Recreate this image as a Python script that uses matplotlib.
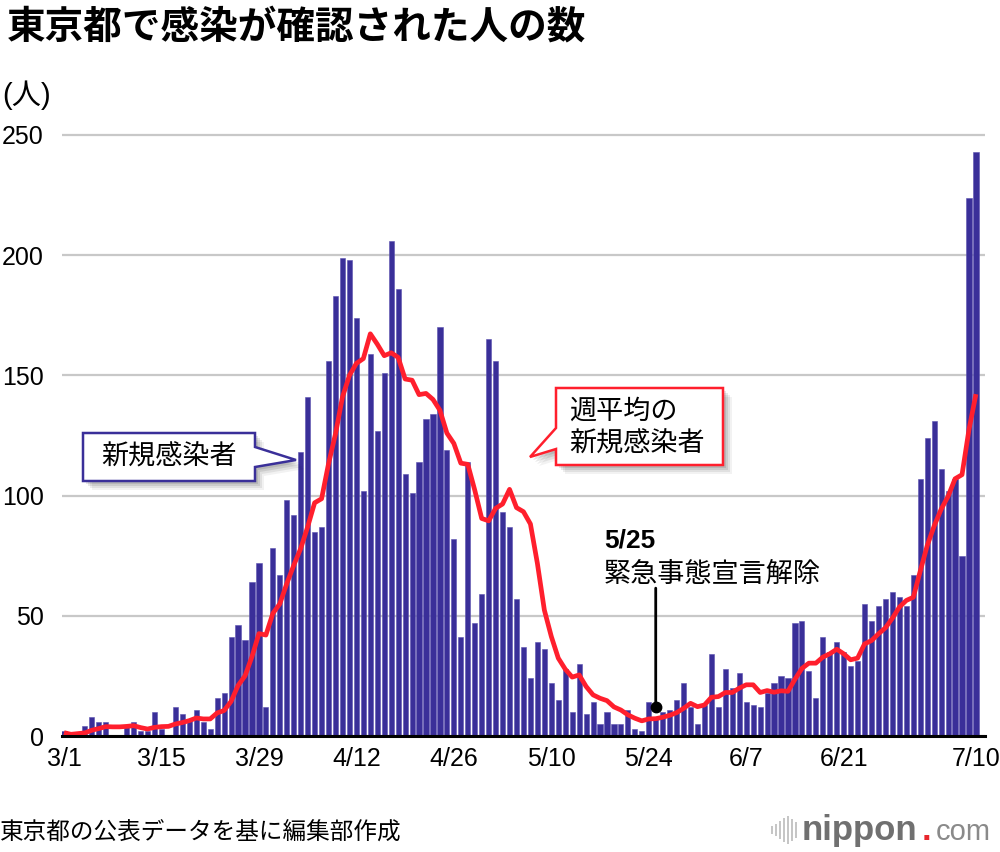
import numpy as np
import pandas as pd
import matplotlib
matplotlib.use('Agg')
import matplotlib.pyplot as plt
from matplotlib.patches import Polygon

# ---------------- data ----------------
dates = pd.date_range('2020-03-01', '2020-07-10', freq='D')
new_cases = [2, 1, 1, 4, 8, 6, 6, 0, 0, 4, 6, 2, 2, 10, 3, 0, 12, 9, 7, 11,
             6, 3, 16, 18, 41, 46, 40, 64, 72, 12, 78, 67, 98, 92, 118, 141, 85, 87, 156, 183,
             199, 198, 174, 102, 159, 127, 151, 206, 186, 109, 101, 114, 132, 134, 170, 119, 82, 41, 114, 47,
             59, 165, 156, 93, 87, 57, 37, 24, 39, 36, 22, 15, 28, 10, 30, 9, 14, 5, 10, 5,
             5, 11, 3, 2, 14, 8, 10, 11, 15, 22, 12, 5, 13, 34, 12, 28, 20, 26, 14, 13,
             12, 18, 22, 25, 24, 47, 48, 27, 16, 41, 35, 39, 35, 29, 31, 55, 48, 54, 57, 60,
             58, 54, 67, 107, 124, 131, 111, 102, 107, 75, 224, 243]
weekly_avg = [1.4, 0.7, 1.0, 1.3, 2.4, 3.1, 3.9, 3.8, 3.8, 4.0, 4.3, 3.5, 2.9, 3.6, 3.9, 4.0, 5.0, 5.6, 6.4, 7.5,
              7.1, 7.1, 9.6, 10.6, 14.4, 21.0, 25.0, 33.0, 42.6, 42.0, 51.0, 55.0, 63.4, 71.0, 78.0, 87.0, 97.0, 98.7, 113.3, 125.7,
              141.0, 150.0, 155.0, 157.0, 167.3, 163.0, 158.2, 159.4, 157.5, 148.5, 148.0, 142.0, 142.5, 140.0, 135.5, 126.0, 121.7, 113.5, 113.0, 102.3,
              90.5, 89.5, 94.7, 96.5, 102.6, 95.0, 93.3, 88.2, 71.8, 52.4, 41.4, 32.4, 27.8, 24.5, 25.4, 20.6, 17.1, 15.7, 14.7, 12.1,
              10.8, 8.8, 7.4, 6.3, 7.1, 7.2, 7.8, 8.6, 9.7, 11.5, 13.6, 12.2, 12.9, 16.1, 16.4, 18.1, 18.1, 19.9, 21.3, 21.3,
              18.1, 18.9, 18.2, 18.8, 18.6, 23.6, 28.1, 30.3, 30.3, 32.8, 34.2, 36.1, 34.2, 31.7, 32.4, 38.3, 39.7, 42.5, 45.0, 49.0,
              53.6, 56.4, 57.7, 68.6, 79.2, 87.4, 94.3, 99.7, 107.0, 108.7, 127.5, 142.2]
tick_dates = ['2020-03-01', '2020-03-15', '2020-03-29', '2020-04-12', '2020-04-26',
              '2020-05-10', '2020-05-24', '2020-06-07', '2020-06-21', '2020-07-10']
tick_labels = ['3/1', '3/15', '3/29', '4/12', '4/26', '5/10', '5/24', '6/7', '6/21', '7/10']
y_ticks = [0, 50, 100, 150, 200, 250]
event_date = '2020-05-25'
event_value = 12

# ---------------- style ----------------
BAR = '#3a2f99'
RED = '#ff1f2d'
plt.rcParams['font.family'] = ['Liberation Sans', 'Noto Sans CJK JP', 'DejaVu Sans']
JP = ['Noto Sans CJK JP', 'DejaVu Sans']

W, H = 1000, 852
fig = plt.figure(figsize=(W / 100, H / 100), dpi=100)
fig.patch.set_facecolor('white')

unit = 601 / 250.0
ytop = 251
ax = fig.add_axes([62 / W, (H - 736) / H, (985 - 62) / W, ytop * unit / H])

x = np.arange(len(dates))
ax.bar(x, new_cases, width=0.74, color=BAR, edgecolor='#5a51b0', linewidth=0.4, zorder=2)
ax.plot(x, weekly_avg, color=RED, lw=3.4, zorder=3, solid_joinstyle='round', solid_capstyle='butt')

ax.set_xlim(-0.29, 132.3)
ax.set_ylim(0, ytop)
ax.set_yticks(y_ticks)
ax.set_yticklabels([str(v) for v in y_ticks])
tpos = [dates.get_loc(pd.Timestamp(d)) for d in tick_dates]
ax.set_xticks(tpos)
ax.set_xticklabels(tick_labels)
ax.tick_params(axis='both', length=0, labelsize=18, colors='black')
ax.tick_params(axis='y', pad=13)
ax.tick_params(axis='x', pad=8)
ax.yaxis.grid(True, color='#c8c8c8', lw=1.6)
ax.set_axisbelow(True)
for s in ['left', 'right', 'top']:
    ax.spines[s].set_visible(False)
ax.spines['bottom'].set_color('black')
ax.spines['bottom'].set_linewidth(2.2)
ax.spines['bottom'].set_zorder(4)

# event annotation (5/25)
ei = dates.get_loc(pd.Timestamp(event_date))
ax.annotate('', xy=(ei, event_value), xytext=(ei, 61.5),
            arrowprops=dict(arrowstyle='-', color='black', lw=2.0, shrinkA=0, shrinkB=0), zorder=5)
ax.plot([ei], [event_value], 'o', color='black', ms=7.5, zorder=6)

# ---------------- overlay (pixel coords) ----------------
ov = fig.add_axes([0, 0, 1, 1], zorder=10)
ov.set_xlim(0, W)
ov.set_ylim(H, 0)
ov.axis('off')
ov.patch.set_alpha(0)

ov.text(7, 27, '東京都で感染が確認された人の数', fontsize=27.8, fontweight='bold',
        family=JP, va='center', ha='left')
ov.text(2, 95, '(人)', fontsize=21, va='center', ha='left')


def callout(pts, edge, shadow=True):
    if shadow:
        for k, a in [(9, 0.05), (7, 0.07), (5, 0.09), (3, 0.10)]:
            sp = [(px + k, py + k) for px, py in pts]
            ov.add_patch(Polygon(sp, closed=True, facecolor='black', edgecolor='none',
                                 alpha=a, zorder=1))
    ov.add_patch(Polygon(pts, closed=True, facecolor='white', edgecolor=edge,
                         lw=1.8, joinstyle='miter', zorder=2))


callout([(83, 433), (255, 433), (255, 447), (296, 460), (255, 467), (255, 481), (83, 481)], BAR)
ov.text(169, 457, '新規感染者', fontsize=19.5, family=JP, ha='center', va='center', zorder=3)

callout([(556, 388), (723, 388), (723, 465), (556, 465), (556, 449), (530, 457), (556, 428)], RED)
ov.text(569, 411, '週平均の', fontsize=19.5, family=JP, ha='left', va='center', zorder=3)
ov.text(569, 444, '新規感染者', fontsize=19.5, family=JP, ha='left', va='center', zorder=3)

ov.text(604, 541, '5/25', fontsize=19, fontweight='bold', ha='left', va='center')
ov.text(604, 574, '緊急事態宣言解除', fontsize=19.5, family=JP, ha='left', va='center')

# footer
ov.text(0, 832, '東京都の公表データを基に編集部作成', fontsize=17, family=JP, ha='left', va='center')

# logo
bar_h = [8, 12, 18, 24, 28, 22, 16]
for i, hgt in enumerate(bar_h):
    xx = 772 + i * 4
    ov.plot([xx, xx], [830 - hgt / 2, 830 + hgt / 2], color='#c0c0c0', lw=1.3, solid_capstyle='butt')
ov.text(802, 840, 'nippon', fontsize=25, fontweight='bold', color='#707070', ha='left', va='baseline')
ov.text(922, 840, '.', fontsize=25, fontweight='bold', color='#e8262d', ha='left', va='baseline')
ov.text(936, 840, 'com', fontsize=21, color='#8a8a8a', ha='left', va='baseline')

fig.savefig('out.png', dpi=100, facecolor='white')
